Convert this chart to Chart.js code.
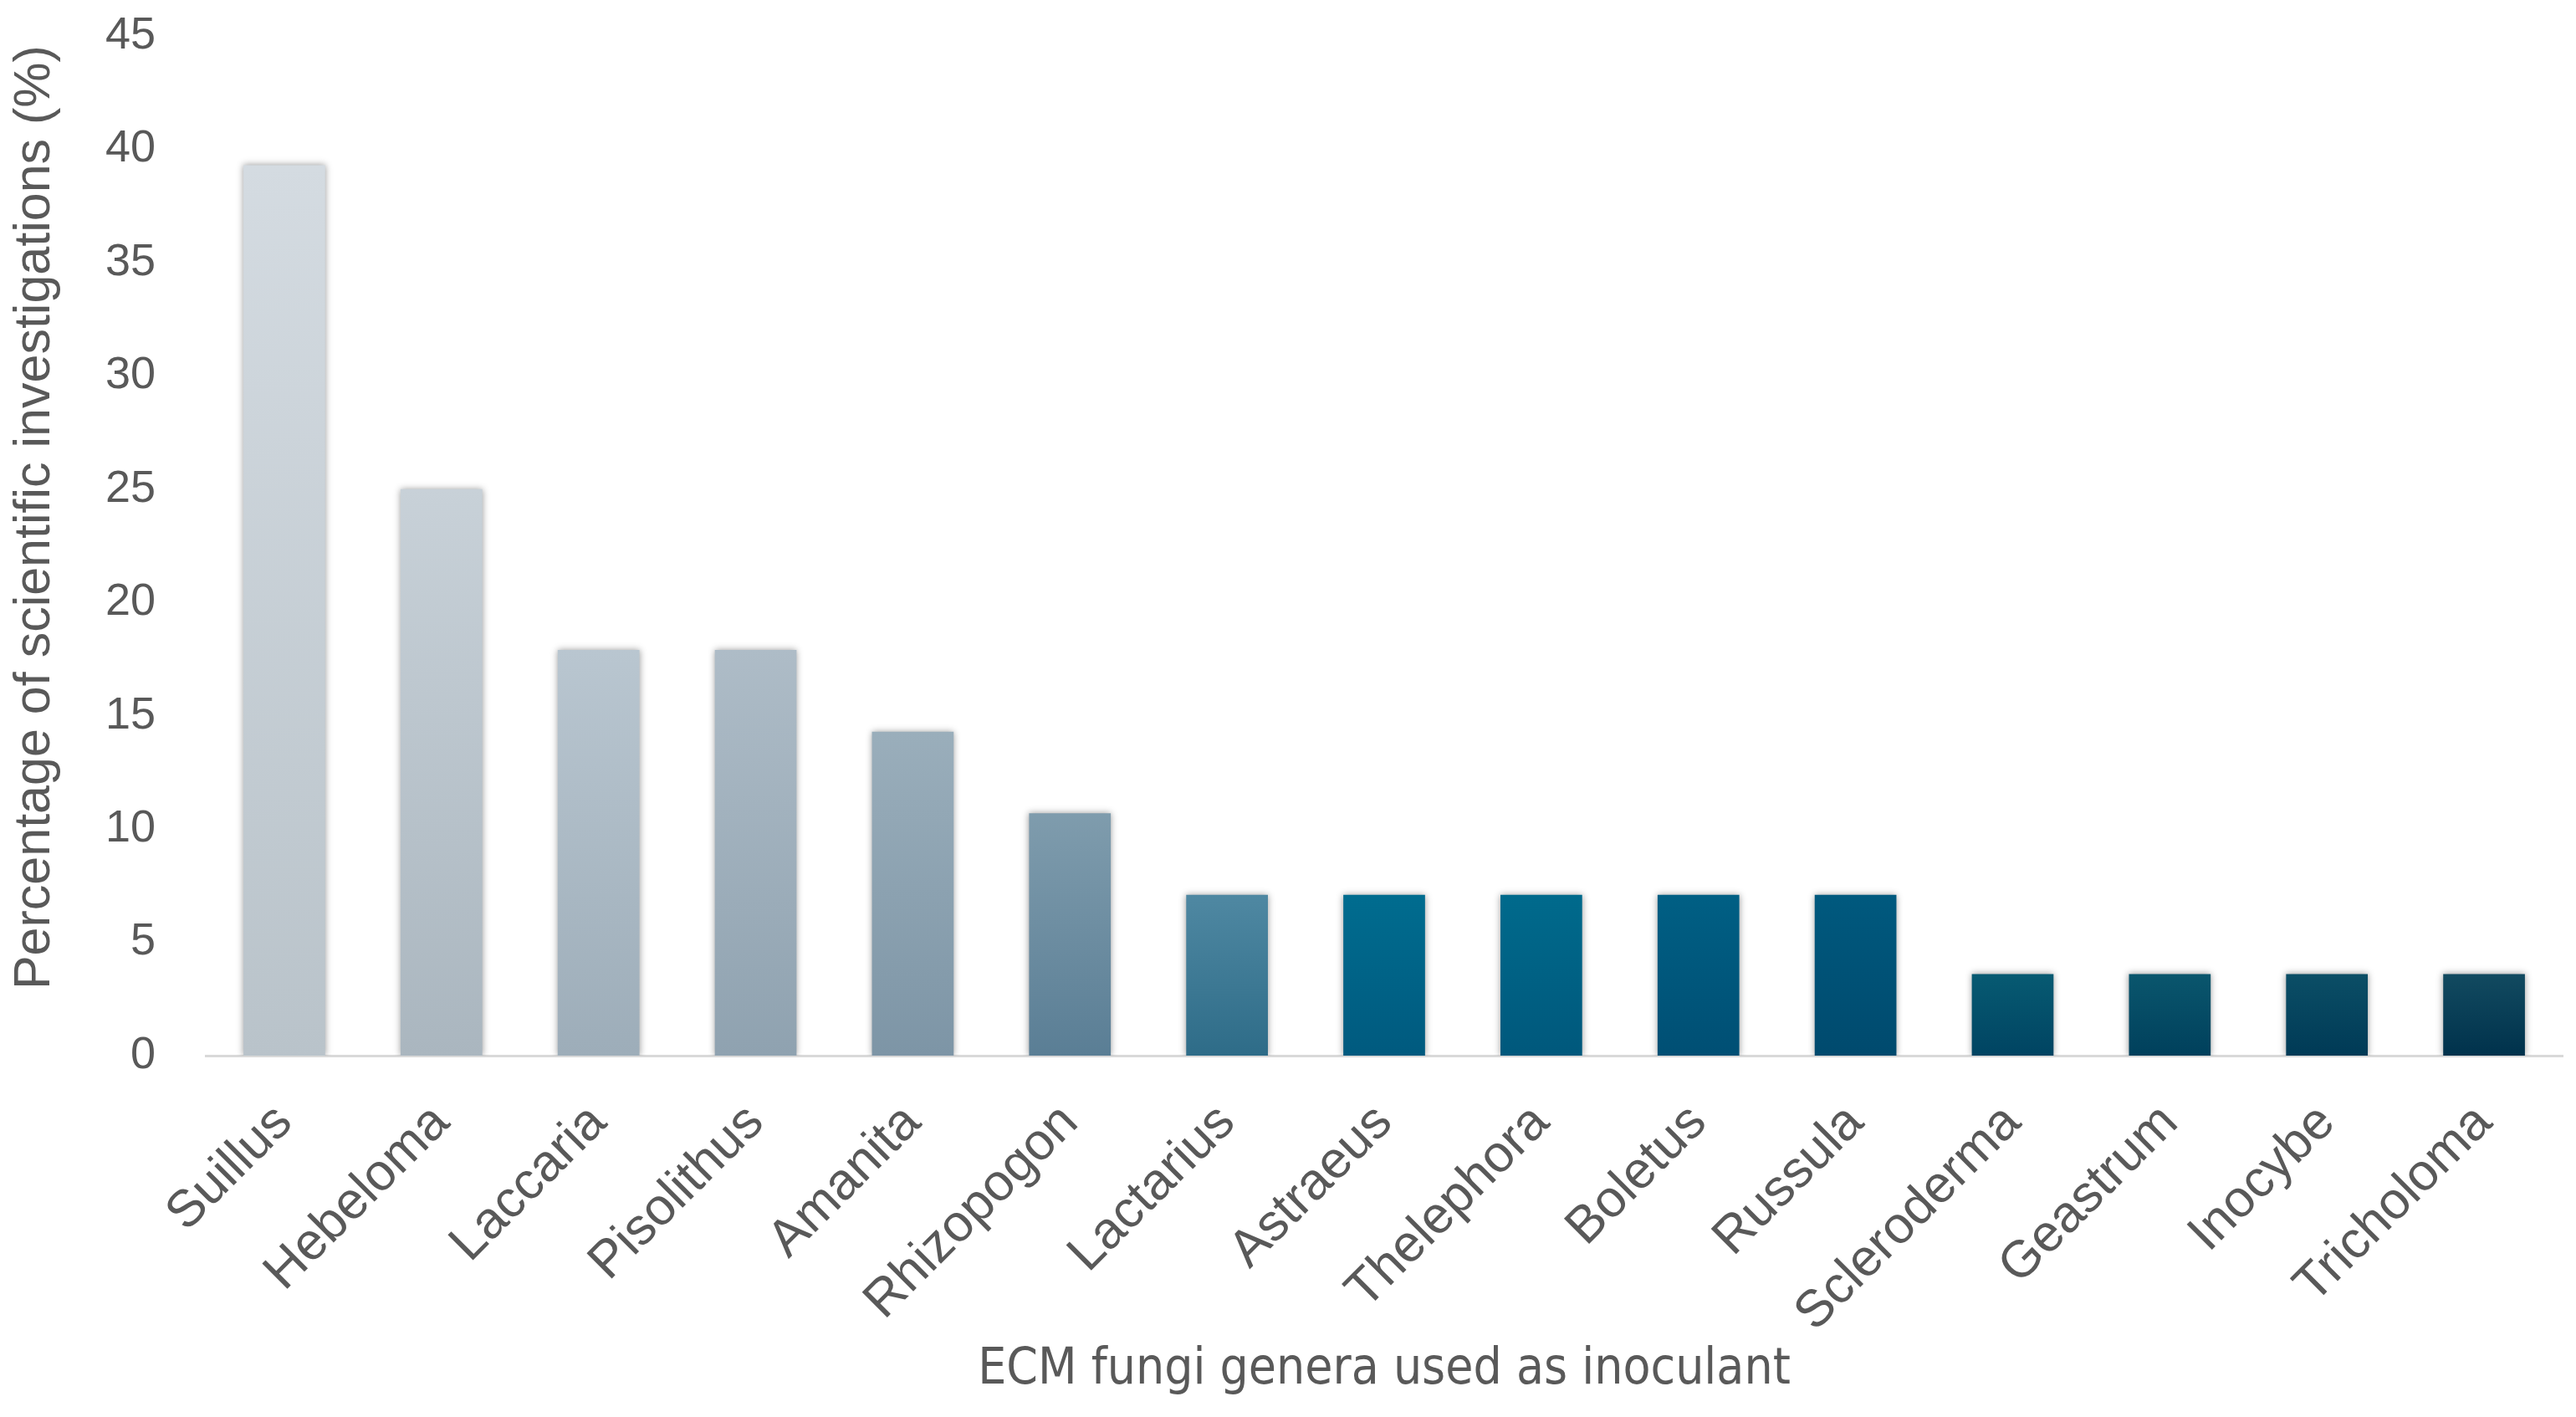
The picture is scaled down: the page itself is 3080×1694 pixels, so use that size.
<!DOCTYPE html>
<html>
<head>
<meta charset="utf-8">
<script src="https://cdn.jsdelivr.net/npm/chart.js@4.4.1/dist/chart.umd.min.js"></script>
<style>
html, body { margin: 0; padding: 0; background: #fff; }
</style>
</head>
<body>
<canvas id="ecmChart" width="3080" height="1694"></canvas>
<script>
// data
const genera = ['Suillus', 'Hebeloma', 'Laccaria', 'Pisolithus', 'Amanita', 'Rhizopogon', 'Lactarius',
  'Astraeus', 'Thelephora', 'Boletus', 'Russula', 'Scleroderma', 'Geastrum', 'Inocybe', 'Tricholoma'];
const studyShare = [39.3, 25.0, 17.9, 17.9, 14.3, 10.7, 7.1, 7.1, 7.1, 7.1, 7.1, 3.6, 3.6, 3.6, 3.6];
const yMin = 0, yMax = 45, yStep = 5;

// bar colours, top and bottom of each gradient
const topColors = ['#d4dbe1', '#c8d1d8', '#b9c6d0', '#aebcc7', '#9aaebb', '#7f9cad', '#4f88a2',
  '#006c8f', '#006a8c', '#005f84', '#00597e', '#075a72', '#0a566d', '#0b4e66', '#124a60'];
const bottomColors = ['#b9c3ca', '#aab6bf', '#9dadb9', '#8fa2b0', '#7d95a6', '#5a7e95', '#2e6c88',
  '#005a7f', '#00587c', '#004f74', '#004a6e', '#004462', '#00405c', '#003a56', '#00324c'];

const textGrey = '#595959';
const fontFam = "'Liberation Sans', Arial, sans-serif";

// soft shadow round the bars
const barShadow = {
  id: 'barShadow',
  beforeDatasetsDraw(chart) {
    const c = chart.ctx;
    c.save();
    c.shadowColor = 'rgba(0,0,0,0.4)';
    c.shadowBlur = 8;
  },
  afterDatasetsDraw(chart) {
    chart.ctx.restore();
  }
};

function barFill(context) {
  const chart = context.chart;
  const i = context.dataIndex;
  const yScale = chart.scales.y;
  if (!chart.chartArea || !yScale) return topColors[i];
  const top = yScale.getPixelForValue(studyShare[i]);
  const base = yScale.getPixelForValue(0);
  if (!isFinite(top) || !isFinite(base) || top === base) return topColors[i];
  const g = chart.ctx.createLinearGradient(0, top, 0, base);
  g.addColorStop(0, topColors[i]);
  g.addColorStop(1, bottomColors[i]);
  return g;
}

const ecmChart = new Chart(document.getElementById('ecmChart'), {
  type: 'bar',
  data: {
    labels: genera,
    datasets: [{
      data: studyShare,
      backgroundColor: barFill,
      borderWidth: 0,
      barPercentage: 0.52,
      categoryPercentage: 1
    }]
  },
  options: {
    responsive: false,
    animation: false,
    devicePixelRatio: 1,
    layout: { padding: { top: 43, right: 16, left: 0, bottom: 0 } },
    plugins: {
      legend: { display: false },
      tooltip: { enabled: false }
    },
    scales: {
      x: {
        grid: { display: false, drawTicks: false },
        border: { display: true, color: '#d9d9d9', width: 3 },
        ticks: {
          color: textGrey,
          font: { family: fontFam, size: 62 },
          minRotation: 45,
          maxRotation: 45,
          padding: 44,
          autoSkip: false
        },
        title: {
          display: true,
          text: 'ECM fungi genera used as inoculant',
          color: textGrey,
          font: { family: "'Liberation Sans Narrow', 'DejaVu Sans Condensed', 'Liberation Sans', sans-serif", size: 60 },
          padding: { top: 0, bottom: 20 }
        },
        afterFit(scale) {
          scale.height = 1694 - 1262;
          scale.paddingTop = 0;
        }
      },
      y: {
        min: yMin,
        max: yMax,
        grid: { display: false, drawTicks: false },
        border: { display: false },
        ticks: {
          stepSize: yStep,
          color: textGrey,
          font: { family: fontFam, size: 54 },
          padding: 60
        },
        title: {
          display: true,
          text: '    Percentage of scientific investigations (%)',
          color: textGrey,
          font: { family: fontFam, size: 61 },
          padding: { top: 6, bottom: 0 }
        },
        afterFit(scale) {
          scale.width = 246;
          scale.paddingTop = 0;
          scale.paddingBottom = 0;
        }
      }
    }
  },
  plugins: [barShadow]
});
</script>
</body>
</html>
